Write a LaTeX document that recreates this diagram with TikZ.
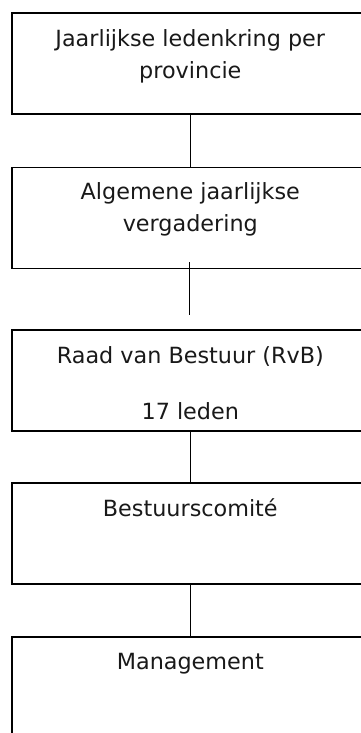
\documentclass[tikz,border=0pt]{standalone}
\usepackage{fontspec}
\setmainfont{DejaVu Sans}
\begin{document}
\begin{tikzpicture}[x=1pt,y=-1pt,
  orgbox/.style={draw=black, line width=1.6pt, rectangle, inner sep=0pt,
    minimum width=357pt, minimum height=101pt, anchor=north west},
  boxtext/.style={inner sep=0pt, anchor=north, align=center, text=black!90,
    font=\fontsize{22.3}{32}\selectfont},
  link/.style={draw=black, line width=1.3pt}]
  \useasboundingbox (0,0) rectangle (360,733);

  % boxes of the organisation chart
  \node[orgbox] (b1) at (11,12.3) {};
  \node[orgbox] (b2) at (11,166.5) {};
  \node[orgbox] (b3) at (11,329) {};
  \node[orgbox] (b4) at (11,482.3) {};
  \node[orgbox] (b5) at (11,636) {};

  % box captions, first baseline 33.5pt below the top edge
  \node[boxtext] (t1) at (b1.north) {\rule{0pt}{34pt}Jaarlijkse ledenkring per\\provincie};
  \node[boxtext] (t2) at (b2.north) {\rule{0pt}{33pt}Algemene jaarlijkse\\vergadering};
  \node[boxtext] (t3) at (b3.north) {\rule{0pt}{34.3pt}Raad van Bestuur (RvB)\\[23.7pt]17 leden};
  \node[boxtext] (t4) at (b4.north) {\rule{0pt}{33.7pt}Bestuurscomité};
  \node[boxtext] (t5) at (b5.north) {\rule{0pt}{33.3pt}Management};

  % connectors
  \coordinate (g1) at (189.5,262.3);
  \coordinate (g2) at (189.5,315);
  \draw[link] (b1.south) -- (b2.north);
  \draw[link] (g1) -- (g2);
  \draw[link] (b3.south) -- (b4.north);
  \draw[link] (b4.south) -- (b5.north);
\end{tikzpicture}
\end{document}
